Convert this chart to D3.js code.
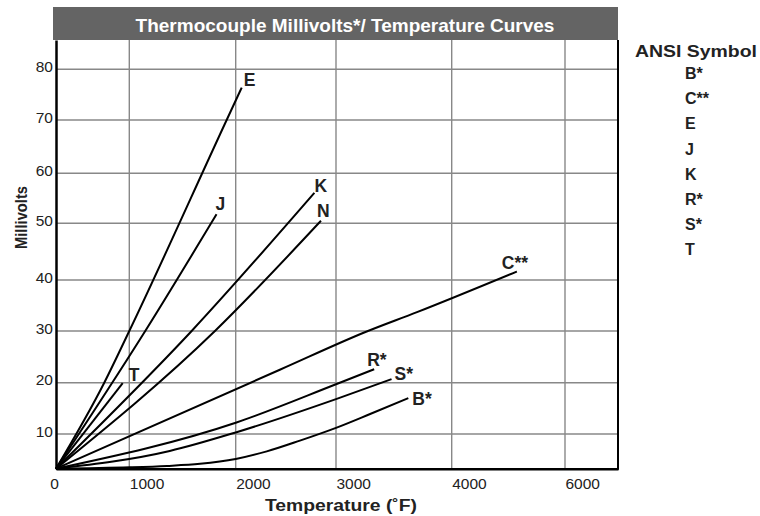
<!DOCTYPE html>
<html>
<head>
<meta charset="utf-8">
<script src="https://cdnjs.cloudflare.com/ajax/libs/d3/7.8.5/d3.min.js"></script>
<style>
  body { margin: 0; background: #fff; }
  svg { display: block; font-family: "Liberation Sans", Arial, Helvetica, sans-serif; }
</style>
</head>
<body>
<div id="chart"></div>
<script>
// axis ticks
const tempTicks = [0, 1000, 2000, 3000, 4000, 6000];
const mvTicks = [10, 20, 30, 40, 50, 60, 70, 80];
const legendSymbols = ['B*', 'C**', 'E', 'J', 'K', 'R*', 'S*', 'T'];

// curves as [temperature °F, millivolts]
const curveE = [[0, 0], [655, 19.9], [1000, 30], [1915, 70], [2060, 76.4]];
const curveJ = [[0, 0], [1150, 30], [1820, 51.8]];
const curveK = [[0, 0], [1586, 30], [2785, 56.1]];
const curveN = [[0, 0], [1805, 30], [2850, 50.5]];
const curveT = [[0, 0], [910, 19.9]];
const curveC = [[0, 0], [2440, 22.5], [3265, 29.9], [3700, 33.7], [5150, 41.5]];
const curveR = [[0, 0], [2000, 12.2], [3000, 19.7], [3330, 22.6]];
const curveS = [[0, 0], [1380, 5.1], [2000, 10.3], [3000, 16.8], [3480, 20.7]];
const curveB = [[0, 0], [1005, 0.4], [1355, 0.8], [1665, 1.4], [2000, 2.8], [2310, 5.0], [2640, 8.1], [3000, 11.2], [3295, 13.9], [3625, 17.0]];

const curves = [
    { name: 'E', values: curveE },
    { name: 'J', values: curveJ },
    { name: 'K', values: curveK },
    { name: 'N', values: curveN },
    { name: 'T', values: curveT },
    { name: 'C**', values: curveC },
    { name: 'R*', values: curveR },
    { name: 'S*', values: curveS },
    { name: 'B*', values: curveB }
];

// where each label sits relative to the end of its curve
const labelOffsets = {
    'E': [2, -2], 'J': [-1, -4], 'K': [0, -1], 'N': [-4, -4], 'T': [6, -2],
    'C**': [-15, -2], 'R*': [-7, -3], 'S*': [3, 1], 'B*': [4, 7]
};

const width = 760;
const height = 516;
const plot = { left: 56, right: 618, top: 40, bottom: 468.7 };

// the printed grid is uneven, so the scales are piecewise
const x = d3.scaleLinear()
    .domain([0, 1000, 2000, 3000, 4000, 6000, 6940])
    .range([plot.left, 129.3, 235.7, 336, 451.7, 565, plot.right]);
const y = d3.scaleLinear()
    .domain([0, 10, 20, 30, 40, 50, 60, 70, 80, 85.7])
    .range([plot.bottom, 434, 382.7, 331, 280, 223.3, 173.3, 120, 69.3, plot.top]);

const makeChart = () => {
    const svg = d3.select('#chart').append('svg')
        .attr('width', width)
        .attr('height', height);

    // title bar
    svg.append('rect')
        .attr('x', 53).attr('y', 7)
        .attr('width', plot.right - 53).attr('height', plot.top - 7)
        .attr('fill', '#646464');
    svg.append('text')
        .attr('x', 345).attr('y', 31.5)
        .attr('text-anchor', 'middle')
        .attr('fill', '#fff')
        .attr('font-weight', 'bold')
        .attr('font-size', 19)
        .text('Thermocouple Millivolts*/ Temperature Curves');

    // grid
    svg.append('g')
        .selectAll('line')
        .data(mvTicks)
        .enter().append('line')
            .attr('x1', plot.left).attr('x2', plot.right)
            .attr('y1', d => y(d)).attr('y2', d => y(d))
            .attr('stroke', '#888')
            .attr('stroke-width', 1.4);
    svg.append('g')
        .selectAll('line')
        .data(tempTicks.filter(d => d > 0))
        .enter().append('line')
            .attr('x1', d => x(d)).attr('x2', d => x(d))
            .attr('y1', plot.top).attr('y2', plot.bottom)
            .attr('stroke', '#888')
            .attr('stroke-width', 1.4);

    // right border
    svg.append('line')
        .attr('x1', plot.right).attr('x2', plot.right)
        .attr('y1', plot.top).attr('y2', plot.bottom + 1)
        .attr('stroke', '#000')
        .attr('stroke-width', 2);

    // y axis
    const yAxis = svg.append('g')
        .attr('transform', 'translate(' + plot.left + ',0)')
        .call(d3.axisLeft(y).tickValues(mvTicks).tickSize(0).tickSizeOuter(0).tickPadding(3));
    yAxis.select('.domain').attr('stroke', '#000').attr('stroke-width', 2.5);
    yAxis.selectAll('text')
        .attr('font-size', 15.5)
        .attr('font-family', null)
        .attr('fill', '#222')
        .attr('dy', '0.14em');

    // x axis
    const xAxis = svg.append('g')
        .attr('transform', 'translate(0,' + plot.bottom + ')')
        .call(d3.axisBottom(x).tickValues(tempTicks).tickFormat(d3.format('d'))
            .tickSize(0).tickSizeOuter(0).tickPadding(9));
    xAxis.select('.domain').attr('stroke', '#000').attr('stroke-width', 2.5);
    xAxis.selectAll('text')
        .attr('font-size', 15.5)
        .attr('font-family', null)
        .attr('fill', '#222')
        .attr('text-anchor', d => d === 0 ? 'middle' : 'start')
        .attr('x', d => d === 0 ? -2 : 0);

    // axis titles
    svg.append('text')
        .attr('x', 265).attr('y', 511)
        .attr('font-weight', 'bold')
        .attr('font-size', 16)
        .attr('fill', '#222')
        .attr('textLength', 152)
        .attr('lengthAdjust', 'spacingAndGlyphs')
        .text('Temperature (˚F)');
    svg.append('text')
        .attr('transform', 'translate(26.5,217.5) rotate(-90)')
        .attr('text-anchor', 'middle')
        .attr('font-weight', 'bold')
        .attr('font-size', 16)
        .attr('fill', '#222')
        .attr('textLength', 63)
        .attr('lengthAdjust', 'spacingAndGlyphs')
        .text('Millivolts');

    // curves
    const line = d3.line()
        .x(d => x(d[0]))
        .y(d => y(d[1]))
        .curve(d3.curveMonotoneX);
    svg.append('g')
        .selectAll('path')
        .data(curves)
        .enter().append('path')
            .attr('d', d => line(d.values))
            .attr('fill', 'none')
            .attr('stroke', '#000')
            .attr('stroke-width', 2);

    // curve labels
    svg.append('g')
        .selectAll('text')
        .data(curves)
        .enter().append('text')
            .attr('x', d => x(d.values[d.values.length - 1][0]) + labelOffsets[d.name][0])
            .attr('y', d => y(d.values[d.values.length - 1][1]) + labelOffsets[d.name][1])
            .attr('font-weight', 'bold')
            .attr('font-size', 17.5)
            .attr('fill', '#222')
            .text(d => d.name);

    // legend
    svg.append('text')
        .attr('x', 635).attr('y', 56.5)
        .attr('font-weight', 'bold')
        .attr('font-size', 16)
        .attr('fill', '#222')
        .attr('textLength', 122)
        .attr('lengthAdjust', 'spacingAndGlyphs')
        .text('ANSI Symbol');
    svg.append('g')
        .selectAll('text')
        .data(legendSymbols)
        .enter().append('text')
            .attr('x', 685)
            .attr('y', (d, i) => 79 + i * 25.2)
            .attr('font-weight', 'bold')
            .attr('font-size', 16)
            .attr('fill', '#222')
            .text(d => d);
};

makeChart();
</script>
</body>
</html>
